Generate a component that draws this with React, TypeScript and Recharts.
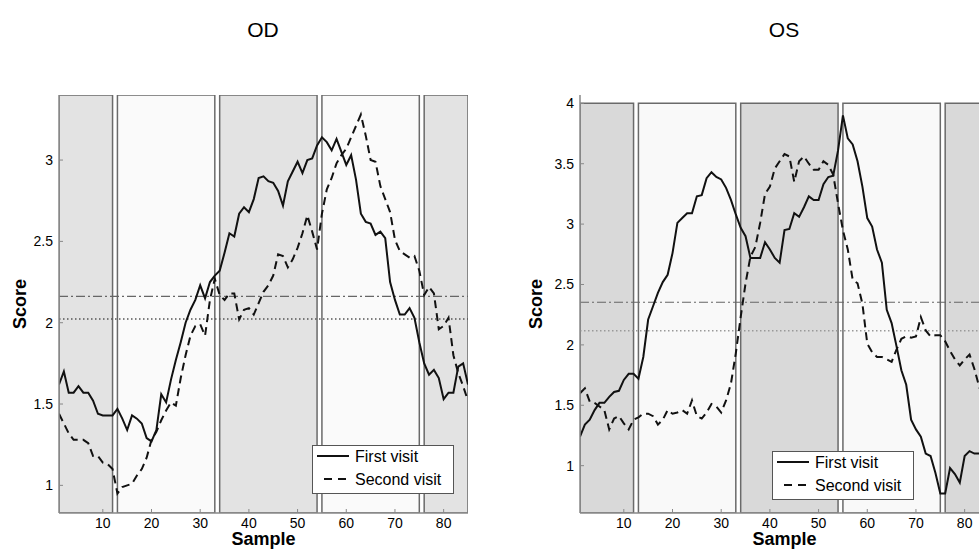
import React from "react";
import {
  LineChart,
  Line,
  XAxis,
  YAxis,
  ReferenceArea,
  ReferenceLine,
  Legend,
} from "recharts";

// sample index 1..85
const samples = Array.from({ length: 85 }, (_, i) => i + 1);

const odFirst = [
  1.62, 1.7, 1.57, 1.57, 1.61, 1.57, 1.57, 1.52, 1.44, 1.43,
  1.43, 1.43, 1.47, 1.41, 1.34, 1.43, 1.41, 1.38, 1.29, 1.27,
  1.34, 1.56, 1.51, 1.65, 1.77, 1.88, 2.0, 2.08, 2.14, 2.23,
  2.15, 2.25, 2.29, 2.32, 2.43, 2.55, 2.53, 2.67, 2.71, 2.68,
  2.76, 2.89, 2.9, 2.87, 2.86, 2.81, 2.72, 2.87, 2.93, 2.99,
  2.92, 3.0, 3.01, 3.09, 3.14, 3.11, 3.06, 3.13, 3.05, 2.97,
  3.03, 2.88, 2.67, 2.62, 2.61, 2.54, 2.56, 2.52, 2.25, 2.14,
  2.05, 2.05, 2.09, 2.03, 1.88, 1.75, 1.68, 1.71, 1.66, 1.53,
  1.57, 1.57, 1.73, 1.75, 1.62,
];

const odSecond = [
  1.44, 1.38, 1.32, 1.28, 1.28, 1.28, 1.26, 1.18, 1.18, 1.14,
  1.13, 1.1, 0.95, 0.99, 1.0, 1.01, 1.06, 1.1, 1.17, 1.28,
  1.33, 1.4, 1.46, 1.51, 1.49, 1.66, 1.8, 1.92, 1.98, 1.99,
  1.92, 2.14, 2.27, 2.17, 2.14, 2.18, 2.18, 2.02, 2.08, 2.09,
  2.05, 2.12, 2.19, 2.23, 2.29, 2.42, 2.41, 2.34, 2.39, 2.46,
  2.55, 2.66, 2.56, 2.45, 2.67, 2.82, 2.89, 2.98, 3.03, 3.07,
  3.14, 3.21, 3.28, 3.15, 3.0, 2.99, 2.84, 2.76, 2.68, 2.51,
  2.44, 2.42, 2.4, 2.41, 2.32, 2.17, 2.22, 2.18, 1.96, 1.98,
  2.03, 1.8, 1.69, 1.61, 1.52,
];

const osFirst = [
  1.24, 1.34, 1.38, 1.46, 1.52, 1.52, 1.57, 1.61, 1.62, 1.71,
  1.76, 1.76, 1.72, 1.9, 2.21, 2.32, 2.43, 2.52, 2.58, 2.76,
  3.01, 3.05, 3.09, 3.09, 3.23, 3.24, 3.38, 3.43, 3.39, 3.37,
  3.3, 3.2, 3.08, 2.97, 2.9, 2.72, 2.72, 2.72, 2.85, 2.79,
  2.72, 2.68, 2.95, 2.96, 3.09, 3.06, 3.14, 3.23, 3.2, 3.2,
  3.33, 3.39, 3.4, 3.61, 3.9, 3.71, 3.66, 3.52, 3.31, 3.05,
  2.98, 2.79, 2.68, 2.29, 2.18, 1.99, 1.79, 1.67, 1.38, 1.3,
  1.24, 1.1, 1.08, 0.94, 0.77, 0.77, 0.98, 0.93, 0.86, 1.08,
  1.12, 1.1, 1.1, 1.12, 1.15,
];

const osSecond = [
  1.6, 1.64, 1.53, 1.52, 1.49, 1.46, 1.3, 1.39, 1.41, 1.35,
  1.3, 1.38, 1.4, 1.43, 1.43, 1.41, 1.34, 1.38, 1.46, 1.43,
  1.44, 1.46, 1.43, 1.54, 1.41, 1.39, 1.44, 1.51, 1.49, 1.44,
  1.54, 1.68, 1.93, 2.23, 2.51, 2.73, 2.81, 3.01, 3.25, 3.31,
  3.46, 3.52, 3.58, 3.56, 3.35, 3.52, 3.56, 3.5, 3.45, 3.45,
  3.52, 3.49, 3.41, 3.17, 2.95, 2.79, 2.54, 2.51, 2.34, 2.01,
  1.94, 1.9, 1.9, 1.88, 1.86, 1.96, 2.05, 2.07, 2.06, 2.07,
  2.23, 2.12, 2.07, 2.08, 2.08, 2.03, 1.95, 1.88, 1.83, 1.88,
  1.92, 1.8, 1.65, 1.55, 1.55,
];

// segment boundaries along the sample axis
const bands = [
  [1, 12],
  [13, 33],
  [34, 54],
  [55, 75],
  [76, 85],
];

const xTicks = [10, 20, 30, 40, 50, 60, 70, 80];
const odTicks = [1, 1.5, 2, 2.5, 3];
const osTicks = [1, 1.5, 2, 2.5, 3, 3.5, 4];

const FONT = "'Liberation Sans', Arial, Helvetica, sans-serif";

const VisitLegend = () => (
  <svg width={142} height={49} style={{ display: "block" }}>
    <rect x={0.5} y={0.5} width={141} height={48} fill="#fff" stroke="#555" />
    <line x1={5} x2={37} y1={11} y2={11} stroke="#111" strokeWidth={2} />
    <line
      x1={12}
      x2={38}
      y1={34}
      y2={34}
      stroke="#111"
      strokeWidth={2}
      strokeDasharray="8 6"
    />
    <text x={43} y={17} fontSize={16} fontFamily={FONT} fill="#000">
      First visit
    </text>
    <text x={43} y={40} fontSize={16} fontFamily={FONT} fill="#000">
      Second visit
    </text>
  </svg>
);

type PanelProps = {
  first: number[];
  second: number[];
  yDomain: [number, number];
  yTicks: number[];
  bandTop?: number;
  dark: string;
  light: string;
  dashDot: number;
  dotted: number;
  dottedColor: string;
  labelOffset: number;
  legendPos: { left: number; top: number };
};

const Panel = ({
  first,
  second,
  yDomain,
  yTicks,
  bandTop,
  dark,
  light,
  dashDot,
  dotted,
  dottedColor,
  labelOffset,
  legendPos,
}: PanelProps) => {
  const data = samples.map((x, i) => ({ x, first: first[i], second: second[i] }));
  const tickStyle = { fontSize: 14, fill: "#000", fontFamily: FONT };
  return (
    <LineChart
      width={490}
      height={550}
      data={data}
      margin={{ top: 95, right: 22, bottom: 0, left: 0 }}
    >
      {bands.map(([a, b], i) => (
        <ReferenceArea
          key={i}
          x1={a}
          x2={b}
          y1={bandTop !== undefined ? yDomain[0] : undefined}
          y2={bandTop}
          fill={i % 2 === 0 ? dark : light}
          fillOpacity={1}
          stroke="#6a6a6a"
          strokeWidth={1.5}
          ifOverflow="hidden"
        />
      ))}
      <ReferenceLine
        y={dashDot}
        stroke="#666"
        strokeWidth={1.2}
        strokeDasharray="9 3 2 3"
      />
      <ReferenceLine
        y={dotted}
        stroke={dottedColor}
        strokeWidth={1.5}
        strokeDasharray="1.5 2.5"
      />
      <XAxis
        dataKey="x"
        type="number"
        domain={[1, 85]}
        ticks={xTicks}
        allowDataOverflow
        height={37}
        tickSize={-4}
        tickMargin={9}
        tick={tickStyle}
        axisLine={{ stroke: "#888", strokeWidth: 1.5 }}
        tickLine={{ stroke: "#888" }}
        label={{
          value: "Sample",
          position: "insideBottom",
          offset: 5,
          style: { fontSize: 18, fontWeight: "bold", fill: "#000", fontFamily: FONT },
        }}
      />
      <XAxis
        xAxisId="top"
        orientation="top"
        type="number"
        domain={[1, 85]}
        ticks={xTicks}
        allowDataOverflow
        height={0}
        mirror
        tick={false}
        tickSize={4}
        axisLine={{ stroke: "#888", strokeWidth: 1.5 }}
        tickLine={{ stroke: "#888" }}
      />
      <YAxis
        type="number"
        domain={yDomain}
        ticks={yTicks}
        allowDataOverflow
        width={59}
        tickSize={-4}
        tickMargin={10}
        tick={tickStyle}
        axisLine={{ stroke: "#888", strokeWidth: 1.5 }}
        tickLine={{ stroke: "#888" }}
        label={{
          value: "Score",
          angle: -90,
          position: "insideLeft",
          offset: labelOffset,
          style: {
            textAnchor: "middle",
            fontSize: 18,
            fontWeight: "bold",
            fill: "#000",
            fontFamily: FONT,
          },
        }}
      />
      <YAxis
        yAxisId="right"
        orientation="right"
        type="number"
        domain={yDomain}
        ticks={yTicks}
        allowDataOverflow
        width={0}
        mirror
        tick={false}
        tickSize={4}
        axisLine={{ stroke: "#888", strokeWidth: 1.5 }}
        tickLine={{ stroke: "#888" }}
      />
      <Line
        dataKey="first"
        type="linear"
        stroke="#111"
        strokeWidth={2}
        dot={false}
        isAnimationActive={false}
      />
      <Line
        dataKey="second"
        type="linear"
        stroke="#111"
        strokeWidth={2}
        strokeDasharray="8 5"
        dot={false}
        isAnimationActive={false}
      />
      <Legend
        layout="vertical"
        align="center"
        verticalAlign="middle"
        wrapperStyle={{ left: legendPos.left, top: legendPos.top, width: 142 }}
        content={() => <VisitLegend />}
      />
    </LineChart>
  );
};

const titleStyle: React.CSSProperties = {
  position: "absolute",
  top: 18,
  width: 100,
  textAlign: "center",
  fontSize: 21,
  fontFamily: FONT,
  color: "#000",
};

export default function App() {
  return (
    <div
      style={{
        position: "absolute",
        left: 0,
        top: 0,
        width: 979,
        height: 550,
        overflow: "hidden",
        background: "#fff",
      }}
    >
      <div style={{ ...titleStyle, left: 213 }}>OD</div>
      <div style={{ ...titleStyle, left: 734 }}>OS</div>
      <div style={{ position: "absolute", left: 0, top: 0 }}>
        <Panel
          first={odFirst}
          second={odSecond}
          yDomain={[0.83, 3.4]}
          yTicks={odTicks}
          dark="#e3e3e3"
          light="#fafafa"
          dashDot={2.162}
          dotted={2.023}
          dottedColor="#555"
          labelOffset={20}
          legendPos={{ left: 312, top: 445 }}
        />
      </div>
      <div style={{ position: "absolute", left: 521, top: 0 }}>
        <Panel
          first={osFirst}
          second={osSecond}
          yDomain={[0.608, 4.069]}
          yTicks={osTicks}
          bandTop={4}
          dark="#d9d9d9"
          light="#f9f9f9"
          dashDot={2.353}
          dotted={2.116}
          dottedColor="#999"
          labelOffset={15}
          legendPos={{ left: 251, top: 451 }}
        />
      </div>
    </div>
  );
}
